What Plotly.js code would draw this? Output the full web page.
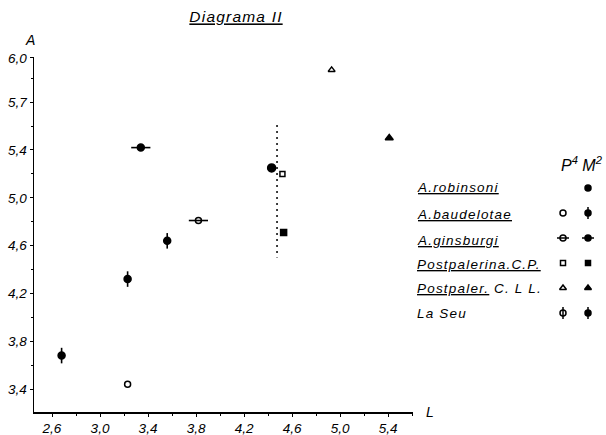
<!DOCTYPE html>
<html>
<head>
<meta charset="utf-8">
<script src="https://cdn.plot.ly/plotly-3.0.1.min.js"></script>
<style>html,body{margin:0;padding:0;background:#fff;}#chart{width:606px;height:435px;}</style>
</head>
<body>
<div id="chart"></div>
<script>
// ---- data (L on x, A on y) ----
const robinsoniM2 = {x: [4.43], y: [5.25]};
const baudelotaeP4 = {x: [3.23], y: [3.44]};
const baudelotaeM2 = {x: [2.68], y: [3.68]};
const ginsburgiP4 = {x: [3.82], y: [4.81]};
const ginsburgiM2 = {x: [3.34], y: [5.42]};
const postCP_P4 = {x: [4.52], y: [5.20]};
const postCP_M2 = {x: [4.53], y: [4.71]};
const postCLL_P4 = {x: [4.93], y: [6.07]};
const postCLL_M2 = {x: [5.41], y: [5.50]};
const laSeuP4 = {x: [3.23], y: [4.32]};
const laSeuM2 = {x: [3.56], y: [4.64]};
const dashLineX = [4.475, 4.475];
const dashLineY = [5.61, 4.50];

const xTickVals = [2.6, 3.0, 3.4, 3.8, 4.2, 4.6, 5.0, 5.4];
const xTickText = ["2,6", "3,0", "3,4", "3,8", "4,2", "4,6", "5,0", "5,4"];
const yTickVals = [3.4, 3.8, 4.2, 4.6, 5.0, 5.4, 5.8, 6.17];
const yTickText = ["3,4", "3,8", "4,2", "4,6", "5,0", "5,4", "5,7", "6,0"];

const legendNames = ["A.robinsoni", "A.baudelotae", "A.ginsburgi", "Postpalerina.C.P.", "Postpaler.", "La Seu"];
const legendRows = [0, 1, 2, 3, 4, 5];

// ---- drawing ----
const K = 'black';
const FONT = 'Liberation Sans, Arial, sans-serif';
const vbar = {type: 'constant', value: 0.065, width: 0, thickness: 1.6, color: K};
const hbar = {type: 'constant', value: 0.08, width: 0, thickness: 1.6, color: K};
const vbarL = {type: 'constant', value: 0.24, width: 0, thickness: 1.5, color: K};
const hbarL = {type: 'constant', value: 0.24, width: 0, thickness: 1.5, color: K};

function pt(d, symbol, size, extra) {
  return Object.assign({
    type: 'scatter', mode: 'markers', x: d.x, y: d.y, showlegend: false, hoverinfo: 'skip',
    cliponaxis: false,
    marker: {symbol: symbol, size: size, color: K, line: {color: K, width: 1.5}}
  }, extra || {});
}

const traces = [
  {type: 'scatter', mode: 'lines', x: dashLineX, y: dashLineY, showlegend: false,
   line: {color: K, width: 1.5, dash: '2px,4px'}, hoverinfo: 'skip'},
  pt(robinsoniM2, 'circle', 8),
  pt(baudelotaeP4, 'circle-open', 6),
  pt(baudelotaeM2, 'circle', 7, {error_y: vbar}),
  pt(ginsburgiP4, 'circle-open', 6, {error_x: hbar}),
  pt(ginsburgiM2, 'circle', 7, {error_x: hbar}),
  pt(postCP_P4, 'square-open', 5),
  pt(postCP_M2, 'square', 6),
  pt(postCLL_P4, 'triangle-up-open', 6),
  pt(postCLL_M2, 'triangle-up', 7),
  pt(laSeuP4, 'circle', 7, {error_y: vbar}),
  pt(laSeuM2, 'circle', 7, {error_y: vbar})
];

// legend symbols on a small auxiliary axis pair: column 0 = P4, column 1 = M2
const legP4Sym = [null, 'circle-open', 'circle-open', 'square-open', 'triangle-up-open', 'circle-open'];
const legM2Sym = ['circle', 'circle', 'circle', 'square', 'triangle-up', 'circle'];
const legP4Bar = ['', '', 'h', '', '', 'v'];
const legM2Bar = ['', 'v', 'h', '', '', 'v'];
legendRows.forEach((r, i) => {
  [[legP4Sym[i], 0, legP4Bar[i]], [legM2Sym[i], 1, legM2Bar[i]]].forEach(([s, c, b]) => {
    if (!s) return;
    const t = {type: 'scatter', mode: 'markers', x: [c], y: [r], xaxis: 'x2', yaxis: 'y2',
      showlegend: false, hoverinfo: 'skip', cliponaxis: false,
      marker: {symbol: s, size: s.indexOf('square') === 0 ? 5 : 6, color: K, line: {color: K, width: 1.5}}};
    if (b === 'v') t.error_y = vbarL;
    if (b === 'h') t.error_x = hbarL;
    traces.push(t);
  });
});

const ML = 34, MR = 6, MT = 57, MB = 23, W = 606, H = 435;
const PW = W - ML - MR, PH = H - MT - MB;
const px = v => (v - ML) / PW;
const py = v => (H - MB - v) / PH;

const sp = t => '<span style="letter-spacing:1.2px">' + t + '</span>';
const ann = [];
const legTextY = [188, 214, 240, 264, 288, 313];
legendNames.forEach((n, i) => {
  ann.push({xref: 'paper', yref: 'paper', x: px(415), y: py(legTextY[i]), xanchor: 'left', yanchor: 'middle',
    text: sp(n), showarrow: false,
    font: {family: FONT, size: 13.5, style: 'italic', color: K, lineposition: n === 'La Seu' ? 'none' : 'under'}});
});
ann.push({xref: 'paper', yref: 'paper', x: px(492), y: py(288), xanchor: 'left', yanchor: 'middle',
  text: sp('C. L L.'), showarrow: false, font: {family: FONT, size: 13.5, style: 'italic', color: K}});
ann.push({xref: 'paper', yref: 'paper', x: px(582), y: py(164), xanchor: 'center', yanchor: 'middle',
  text: 'P<sup>4</sup> M<sup>2</sup>', showarrow: false, font: {family: FONT, size: 16, style: 'italic', color: K}});
ann.push({xref: 'paper', yref: 'paper', x: px(30), y: py(40), xanchor: 'center', yanchor: 'middle',
  text: 'A', showarrow: false, font: {family: FONT, size: 14, style: 'italic', color: K}});
ann.push({xref: 'paper', yref: 'paper', x: px(430), y: py(412), xanchor: 'center', yanchor: 'middle',
  text: 'L', showarrow: false, font: {family: FONT, size: 14, style: 'italic', color: K}});

const layout = {
  width: W, height: H,
  margin: {l: ML, r: MR, t: MT, b: MB, pad: 0},
  paper_bgcolor: 'white', plot_bgcolor: 'white',
  font: {family: FONT, size: 13, color: K, style: 'italic'},
  title: {text: sp('Diagrama II'), xref: 'container', yref: 'container', x: 236 / W, xanchor: 'center',
    y: 1 - 17 / H, yanchor: 'middle',
    font: {family: FONT, size: 15.5, style: 'italic', color: K, lineposition: 'under'}},
  showlegend: false,
  xaxis: {domain: [0, px(413)], range: [2.45, 5.608], showgrid: false, zeroline: false,
    showline: true, linecolor: K, linewidth: 1.5,
    tickmode: 'array', tickvals: xTickVals, ticktext: xTickText,
    ticks: 'outside', ticklen: 3, tickwidth: 1, tickcolor: K,
    minor: {tickmode: 'linear', tick0: 2.6, dtick: 0.2, ticks: 'outside', ticklen: 2, tickcolor: K},
    tickfont: {family: FONT, size: 13.5, style: 'italic', color: K}},
  yaxis: {domain: [0, 1], range: [3.208, 6.178], showgrid: false, zeroline: false,
    showline: true, linecolor: K, linewidth: 1.5,
    tickmode: 'array', tickvals: yTickVals, ticktext: yTickText,
    ticks: 'outside', ticklen: 3, tickwidth: 1, tickcolor: K,
    minor: {tickmode: 'linear', tick0: 3.4, dtick: 0.2, ticks: 'outside', ticklen: 2, tickcolor: K},
    tickfont: {family: FONT, size: 13.5, style: 'italic', color: K}},
  xaxis2: {domain: [px(550), 1], range: [-0.52, 1.48], visible: false, anchor: 'y2', fixedrange: true},
  yaxis2: {domain: [py(325), py(175)], range: [5.48, -0.52], visible: false, anchor: 'x2', fixedrange: true},
  annotations: ann
};

Plotly.newPlot('chart', traces, layout, {staticPlot: true, displayModeBar: false});
</script>
</body>
</html>
